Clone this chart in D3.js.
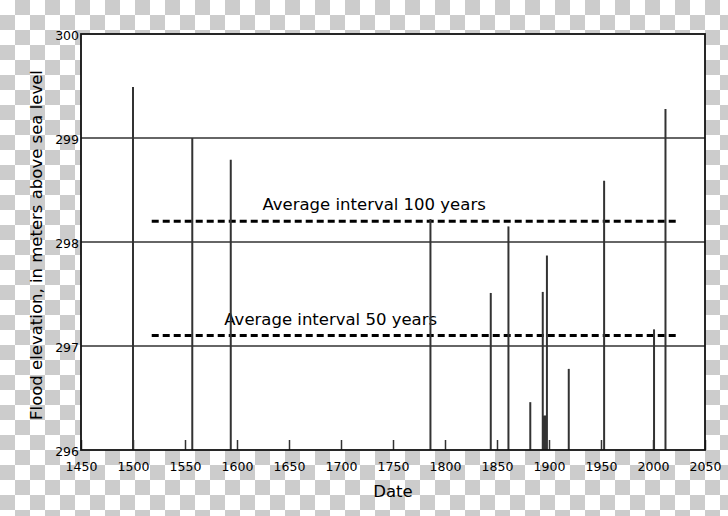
<!DOCTYPE html>
<html>
<head>
<meta charset="utf-8">
<script src="https://cdn.jsdelivr.net/npm/d3@7"></script>
<style>
html,body{margin:0;padding:0;background:#fff;}
svg{display:block;}
text{font-family:"DejaVu Sans",sans-serif;}
</style>
</head>
<body>
<svg id="chart" width="728" height="516"></svg>
<script>
// Flood years and peak elevations (m above sea level)
const floodYears = [1500, 1557, 1594, 1786, 1844, 1861, 1882, 1894, 1895.2, 1896.2, 1897.1, 1898, 1919, 1953, 2001, 2012];
const floodLevels = [299.49, 299.00, 298.79, 298.22, 297.51, 298.15, 296.46, 297.52, 296.33, 296.33, 296.33, 297.87, 296.78, 298.59, 297.16, 299.28];
const xTicks = [1450, 1500, 1550, 1600, 1650, 1700, 1750, 1800, 1850, 1900, 1950, 2000, 2050];
const yTicks = [296, 297, 298, 299, 300];
const gridLevels = [297, 298, 299];
const avgLabels = ["Average interval 100 years", "Average interval 50 years"];
const avgLevels = [298.2, 297.1];
const avgStart = [1518, 1518];
const avgEnd = [2024, 2024];
const avgLabelYear = [1624.5, 1587.8];

const svg = d3.select("#chart");
const W = 728, H = 516;
const margin = {left: 81, right: 23, top: 34, bottom: 66};

// checkerboard background
const defs = svg.append("defs");
const pat = defs.append("pattern").attr("id", "chk").attr("width", 30).attr("height", 30)
  .attr("patternUnits", "userSpaceOnUse");
pat.append("rect").attr("width", 30).attr("height", 30).attr("fill", "#ffffff");
pat.append("rect").attr("x", 15).attr("y", 0).attr("width", 15).attr("height", 15).attr("fill", "#cccccc");
pat.append("rect").attr("x", 0).attr("y", 15).attr("width", 15).attr("height", 15).attr("fill", "#cccccc");
svg.append("rect").attr("width", W).attr("height", H).attr("fill", "url(#chk)");

const x = d3.scaleLinear().domain([1450, 2050]).range([margin.left, W - margin.right]);
const y = d3.scaleLinear().domain([296, 300]).range([H - margin.bottom, margin.top]);

// plot background
svg.append("rect").attr("x", x(1450)).attr("y", y(300))
  .attr("width", x(2050) - x(1450)).attr("height", y(296) - y(300)).attr("fill", "#fff");

// grid lines
svg.append("g").selectAll("line").data(gridLevels).join("line")
  .attr("x1", x(1450)).attr("x2", x(2050))
  .attr("y1", d => y(d)).attr("y2", d => y(d))
  .attr("stroke", "#333").attr("stroke-width", 1.4);

// average interval labels
svg.append("g").selectAll("text").data(avgLabels).join("text")
  .attr("x", (d, i) => x(avgLabelYear[i]))
  .attr("y", (d, i) => y(avgLevels[i]) - 11)
  .attr("font-size", 16.5).attr("fill", "#000")
  .text(d => d);

// dashed average lines
svg.append("g").selectAll("line").data(avgLevels).join("line")
  .attr("x1", (d, i) => x(avgStart[i])).attr("x2", (d, i) => x(avgEnd[i]))
  .attr("y1", d => y(d)).attr("y2", d => y(d))
  .attr("stroke", "#000").attr("stroke-width", 3).attr("stroke-dasharray", "7,4");

// flood bars
svg.append("g").selectAll("line").data(floodYears).join("line")
  .attr("x1", d => x(d)).attr("x2", d => x(d))
  .attr("y1", y(296)).attr("y2", (d, i) => y(floodLevels[i]))
  .attr("stroke", "#333").attr("stroke-width", 2);

// x axis
const xAxis = svg.append("g").attr("transform", `translate(0,${y(296)})`)
  .call(d3.axisBottom(x).tickValues(xTicks).tickFormat(d3.format("d"))
    .tickSizeInner(-10).tickSizeOuter(0).tickPadding(12));
xAxis.select(".domain").remove();
xAxis.selectAll(".tick line").attr("stroke", "#333").attr("stroke-width", 1.5);
xAxis.selectAll("text").attr("font-size", 12.5).attr("fill", "#000")
  .attr("font-family", "DejaVu Sans, sans-serif");

// y axis
const yAxis = svg.append("g").attr("transform", `translate(${x(1450)},0)`)
  .call(d3.axisLeft(y).tickValues(yTicks).tickFormat(d3.format("d"))
    .tickSize(0).tickPadding(2));
yAxis.select(".domain").remove();
yAxis.selectAll("text").attr("font-size", 12.5).attr("fill", "#000").attr("dy", "0.42em")
  .attr("font-family", "DejaVu Sans, sans-serif");

// frame
svg.append("rect").attr("x", x(1450)).attr("y", y(300))
  .attr("width", x(2050) - x(1450)).attr("height", y(296) - y(300))
  .attr("fill", "none").attr("stroke", "#111").attr("stroke-width", 1.8);

// axis titles
svg.append("text").attr("x", (x(1450) + x(2050)) / 2).attr("y", 497)
  .attr("text-anchor", "middle").attr("font-size", 16.5).attr("fill", "#000").text("Date");
svg.append("text")
  .attr("transform", `translate(41.5,${(y(296) + y(300)) / 2 + 3}) rotate(-90)`)
  .attr("text-anchor", "middle").attr("font-size", 16.5).attr("fill", "#000")
  .text("Flood elevation, in meters above sea level");
</script>
</body>
</html>
